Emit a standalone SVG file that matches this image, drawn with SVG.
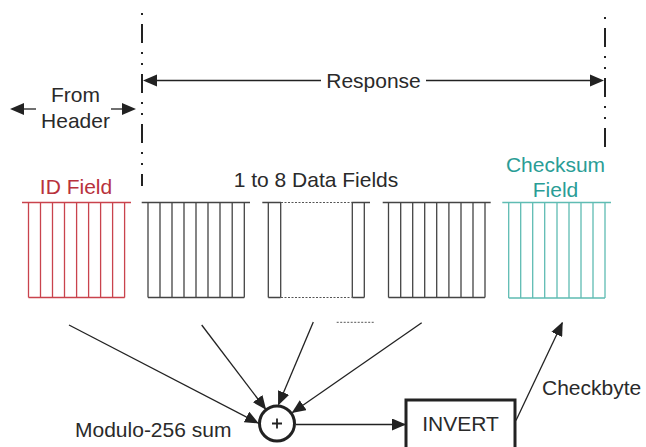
<svg xmlns="http://www.w3.org/2000/svg" width="646" height="447" viewBox="0 0 646 447">
<defs>
<marker id="ah" markerUnits="userSpaceOnUse" markerWidth="14" markerHeight="12" viewBox="0 0 14 12" refX="13" refY="6" orient="auto">
<path d="M0,0 L14,6 L0,12 Z" fill="#222"/>
</marker>
</defs>
<style>
text{font-family:"Liberation Sans",Arial,sans-serif;font-size:21px;fill:#2a2a2a}
.dd{stroke:#222;stroke-width:2;fill:none;stroke-dasharray:19 9 2 9 2 9;stroke-dashoffset:39}
.ln{stroke:#222;stroke-width:1.3;fill:none}
.red{stroke:#c9434d;stroke-width:1.3;fill:none}
.teal{stroke:#5fbcb3;stroke-width:1.3;fill:none}
.gry{stroke:#444;stroke-width:1.3;fill:none}
.dot{stroke:#555;stroke-width:1;fill:none;stroke-dasharray:2 1.5}
</style>

<g id="boundaries">
<line class="dd" x1="142" y1="13" x2="142" y2="186"/>
<line class="dd" x1="605" y1="17" x2="605" y2="156"/>
</g>

<g id="from-header">
<line class="ln" x1="22" y1="109" x2="36" y2="109"/>
<path d="M10,109 L24,103 L24,115 Z" fill="#222"/>
<line class="ln" x1="111" y1="109" x2="124" y2="109"/>
<path d="M136,109 L122,103 L122,115 Z" fill="#222"/>
<text x="75.5" y="102" text-anchor="middle">From</text>
<text x="75.5" y="128" text-anchor="middle">Header</text>
</g>

<g id="response">
<line class="ln" x1="154" y1="80.5" x2="321" y2="80.5"/>
<line class="ln" x1="426" y1="80.5" x2="592" y2="80.5"/>
<path d="M143,80.5 L157,74.5 L157,86.5 Z" fill="#222"/>
<path d="M604,80.5 L590,74.5 L590,86.5 Z" fill="#222"/>
<text x="373.5" y="88" text-anchor="middle">Response</text>
</g>

<g id="id-field">
<text x="76" y="194" text-anchor="middle" style="fill:#b8323c">ID Field</text>
<path class="red" d="M22,202.5 H131 M28.5,297.5 H124.7 M28.5,202.5 V297.5 M40.5,202.5 V297.5 M52.5,202.5 V297.5 M64.5,202.5 V297.5 M76.6,202.5 V297.5 M88.6,202.5 V297.5 M100.6,202.5 V297.5 M112.6,202.5 V297.5 M124.6,202.5 V297.5"/>
</g>

<g id="data-fields">
<text x="316" y="187" text-anchor="middle">1 to 8 Data Fields</text>
<path class="gry" d="M141.7,202.5 H250 M148,297.5 H244.3 M148,202.5 V297.5 M160,202.5 V297.5 M172,202.5 V297.5 M184,202.5 V297.5 M196,202.5 V297.5 M208,202.5 V297.5 M220,202.5 V297.5 M232.2,202.5 V297.5 M244.3,202.5 V297.5"/>
<path class="gry" d="M262.3,202.5 H281 M351.5,202.5 H370 M268.3,297.5 H280.7 M352.3,297.5 H364.3 M268.3,202.5 V297.5 M280.7,202.5 V297.5 M352.3,202.5 V297.5 M364.3,202.5 V297.5"/>
<path class="dot" d="M281,202.5 H351.5 M281,297.5 H351.5"/>
<path class="gry" d="M382.7,202.5 H490.7 M388.5,297.5 H485 M388.5,202.5 V297.5 M400.7,202.5 V297.5 M412.7,202.5 V297.5 M424.7,202.5 V297.5 M436.7,202.5 V297.5 M448.9,202.5 V297.5 M461,202.5 V297.5 M473,202.5 V297.5 M485,202.5 V297.5"/>
</g>

<g id="checksum-field">
<text x="555.5" y="171.5" text-anchor="middle" style="fill:#2a9d96">Checksum</text>
<text x="555.5" y="196.5" text-anchor="middle" style="fill:#2a9d96">Field</text>
<path class="teal" d="M502.3,202.5 H611 M508.7,298 H605 M508.7,202.5 V298 M520.7,202.5 V298 M532.7,202.5 V298 M544.7,202.5 V298 M557,202.5 V298 M569,202.5 V298 M581,202.5 V298 M593,202.5 V298 M605,202.5 V298"/>
</g>

<g id="sum">
<circle cx="277" cy="423.5" r="17.5" fill="none" stroke="#222" stroke-width="3"/>
<path d="M272,423.5 H282 M277,418.5 V428.5" stroke="#222" stroke-width="1.8"/>
<text x="75" y="437">Modulo-256 sum</text>
</g>

<g id="invert">
<rect x="406" y="400" width="109" height="60" fill="none" stroke="#222" stroke-width="3"/>
<text x="460.5" y="431" text-anchor="middle">INVERT</text>
</g>

<g id="connectors">
<line class="ln" x1="69" y1="325" x2="258" y2="423" marker-end="url(#ah)"/>
<line class="ln" x1="201.7" y1="325" x2="265.5" y2="409" marker-end="url(#ah)"/>
<line class="ln" x1="313.3" y1="322" x2="278.5" y2="404.5" marker-end="url(#ah)"/>
<line class="ln" x1="421.7" y1="322.7" x2="292.5" y2="412.5" marker-end="url(#ah)"/>
<path class="dot" d="M336.7,322.3 H374"/>
<line class="ln" x1="296" y1="424.5" x2="405" y2="424.5" marker-end="url(#ah)"/>
<line class="ln" x1="516" y1="420.5" x2="562.3" y2="322.7" marker-end="url(#ah)"/>
<text x="542" y="395">Checkbyte</text>
</g>
</svg>
